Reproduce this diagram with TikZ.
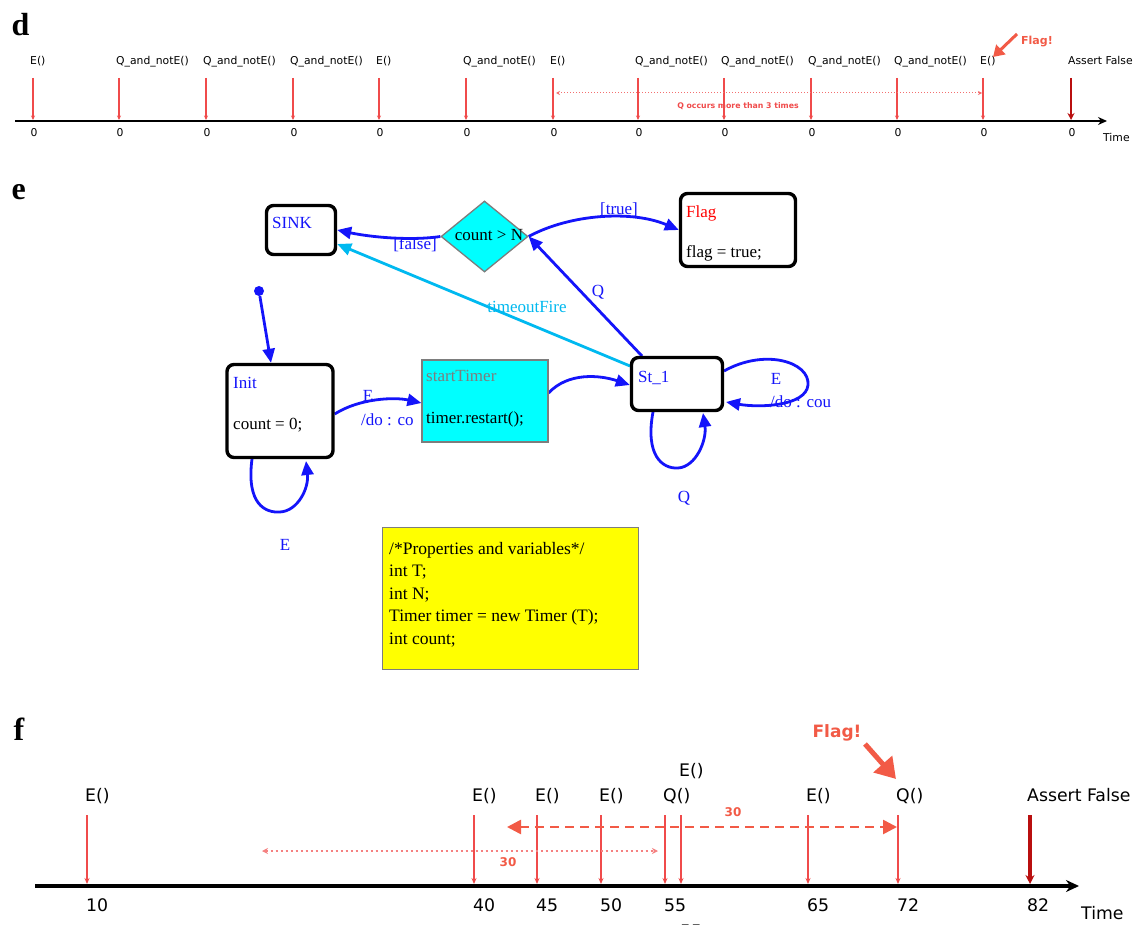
\documentclass[tikz,border=0pt]{standalone}
\usepackage{fontspec}
\setmainfont{Liberation Serif}
\newfontfamily\tlfont{DejaVu Sans}
\usetikzlibrary{arrows.meta,shapes.geometric,backgrounds}
\definecolor{evred}{RGB}{240,75,75}
\definecolor{flagred}{RGB}{242,90,70}
\definecolor{assertred}{RGB}{185,15,15}
\definecolor{stblue}{RGB}{20,20,250}
\definecolor{tocyan}{RGB}{0,185,240}
\definecolor{boxgray}{RGB}{125,125,125}
\definecolor{aqua}{RGB}{0,255,255}
\definecolor{varyellow}{RGB}{255,255,0}
\tikzset{
  panel/.style={anchor=base west,font=\fontsize{32}{32}\selectfont\bfseries},
  dlab/.style={anchor=base west,inner sep=0,font=\tlfont\fontsize{10.8}{12}\selectfont},
  dnum/.style={anchor=base,inner sep=0,font=\tlfont\fontsize{10.8}{12}\selectfont},
  devent/.style={evred,line width=1.2pt,-{Stealth[length=4.5pt,width=4pt]}},
  dassert/.style={assertred,line width=2.6pt,-{Stealth[length=7pt,width=7pt]}},
  daxis/.style={line width=2.8pt,-{Stealth[length=9pt,width=8pt]}},
  flab/.style={anchor=base west,inner sep=0,font=\tlfont\fontsize{17.3}{19}\selectfont},
  fnum/.style={anchor=base west,inner sep=0,font=\tlfont\fontsize{17.3}{19}\selectfont},
  fevent/.style={evred,line width=1.8pt,-{Stealth[length=6pt,width=5pt]}},
  fassert/.style={assertred,line width=4pt,-{Stealth[length=9pt,width=9pt]}},
  faxis/.style={line width=4.5pt,-{Stealth[length=13pt,width=12pt]}},
  state/.style={draw,line width=3.4pt,rounded corners=7pt,inner sep=0},
  actbox/.style={draw=boxgray,line width=1.2pt,fill=aqua,inner sep=0},
  stext/.style={anchor=base west,inner sep=0,font=\fontsize{17}{20}\selectfont},
  edge/.style={stblue,line width=2.8pt,-{Triangle[length=14pt,width=12pt]}},
  elab/.style={stblue,inner sep=0,font=\fontsize{17}{20}\selectfont},
}
\begin{document}
\begin{tikzpicture}[x=1pt,y=-1pt]
\useasboundingbox (0,0) rectangle (1143,925);
\begin{scope}[on background layer]
\fill[white] (0,0) rectangle (1143,925);
\end{scope}

% ================= panel d =================
\node[panel] (pd) at (8,36) {d};
\coordinate (daxL) at (15,121);
\coordinate (daxR) at (1107,121);
\draw[daxis] (daxL) -- (daxR);
\foreach \x/\t [count=\i] in {33/E(),119/Q\_and\_notE(),206/Q\_and\_notE(),293/Q\_and\_notE(),379/E(),466/Q\_and\_notE(),553/E(),638/Q\_and\_notE(),724/Q\_and\_notE(),811/Q\_and\_notE(),897/Q\_and\_notE(),983/E()} {
  \node[dlab] (dl\i) at (\x-3,65) {\t};
  \coordinate (dtop\i) at (\x,78);
  \coordinate (dbot\i) at (\x,120);
  \draw[devent] (dtop\i) -- (dbot\i);
  \node[dnum] (dn\i) at (\x+1,137) {0};
}
\node[dlab] (dla) at (1068,65) {Assert False};
\coordinate (datop) at (1071,78);
\coordinate (dabot) at (1071,120);
\draw[dassert] (datop) -- (dabot);
\node[dnum] (dna) at (1072,137) {0};
\node[dlab] (dtime) at (1103,142) {Time};
\coordinate (ddotL) at (556,93);
\coordinate (ddotR) at (982,93);
\draw[evred!80,line width=1pt,dotted,{Stealth[length=4pt,width=4pt]}-{Stealth[length=4pt,width=4pt]}] (ddotL) -- (ddotR);
\node[evred,inner sep=0,font=\tlfont\bfseries\fontsize{7.8}{8}\selectfont] (docc) at (738,106) {Q occurs more than 3 times};
\node[anchor=base west,inner sep=0,flagred,font=\tlfont\bfseries\fontsize{11}{12}\selectfont] (dflag) at (1021,45) {Flag!};
\coordinate (dfs) at (1017,34);
\coordinate (dfe) at (993,57);
\draw[flagred,line width=3pt,-{Triangle[length=11pt,width=13pt]}] (dfs) -- (dfe);

% ================= panel e =================
\node[panel] (pe) at (8,200) {e};
\node[state,minimum width=69pt,minimum height=49pt] (sink) at (301,230) {};
\node[stext,stblue] (sinkt) at (272,229) {SINK};
\node[diamond,draw=boxgray,line width=1.3pt,fill=aqua,minimum width=87pt,minimum height=71pt,inner sep=0] (dia) at (484.5,236.5) {};
\node[inner sep=0,font=\fontsize{17}{20}\selectfont] (diat) at (489,235) {count > N};
\node[state,minimum width=115pt,minimum height=73pt] (flag) at (738,230) {};
\node[stext,red] (flagt) at (686,218) {Flag};
\node[stext] (flagb) at (686,258) {flag = true;};
\node[state,minimum width=106pt,minimum height=93pt] (init) at (280,411) {};
\node[stext,stblue] (initt) at (233,388) {Init};
\node[stext] (initb) at (233,429) {count = 0;};
\node[actbox,minimum width=126pt,minimum height=82pt] (stt) at (485,401) {};
\node[stext,boxgray] (sttt) at (426,381) {startTimer};
\node[stext] (sttb) at (426,423) {timer.restart();};
\node[state,minimum width=91pt,minimum height=53pt] (st1) at (677,384) {};
\node[stext,stblue] (st1t) at (638,382) {St\_1};
\node[draw=boxgray,line width=1pt,fill=varyellow,minimum width=256pt,minimum height=142pt,inner sep=0] (vars) at (510,598) {};
\node[stext,anchor=north west,align=left,font=\fontsize{17.5}{22.5}\selectfont] (varst) at (389,542) {/*Properties and variables*/\\int T;\\int N;\\Timer timer = new Timer (T);\\int count;};
\node[circle,fill=stblue,minimum size=10pt,inner sep=0] (initdot) at (259,291) {};

\begin{scope}[on background layer]
\draw[edge] (initdot) -- ([xshift=-9pt]init.north);
\draw[edge] ([yshift=-3pt]init.east) .. controls (360,398) and (395,397) .. ([yshift=-2pt]stt.west);
\node[elab] (l1) at (368,396) {E};
\node[elab,anchor=west] (l2) at (361,420) {/do : co};
\draw[edge] (252,459) .. controls (246,505) and (266,513) .. (280,512) .. controls (298,511) and (309,488) .. (306,461);
\node[elab] (l3) at (285,545) {E};
\draw[edge] ([yshift=8pt]stt.east) .. controls (568,372) and (600,375) .. ([yshift=-1pt]st1.west);
\draw[edge] (724,371) .. controls (765,348) and (810,362) .. (808,385) .. controls (806,406) and (760,408) .. (726,402);
\node[elab] (l4) at (776,379) {E};
\node[elab,anchor=west] (l5) at (770,402) {/do : cou};
\draw[edge] (653,412) .. controls (645,455) and (662,469) .. (678,468) .. controls (696,467) and (707,440) .. (703,413);
\node[elab] (l6) at (684,498) {Q};
\draw[edge] (642,356) -- (dia.east);
\node[elab] (l7) at (598,292) {Q};
\draw[edge,tocyan] (630,366) -- ([yshift=-14pt]sink.east);
\node[elab,tocyan] (l8) at (527,307) {timeoutFire};
\draw[edge] (dia.west) .. controls (410,241) and (370,237) .. (sink.east);
\node[elab] (l9) at (415,245) {[false]};
\draw[edge] (dia.east) .. controls (570,214) and (632,210) .. (flag.west);
\node[elab] (l10) at (619,210) {[true]};
\end{scope}

% ================= panel f =================
\node[panel] (pf) at (10,740) {f};
\coordinate (faxL) at (35,886);
\coordinate (faxR) at (1079,886);
\draw[faxis] (faxL) -- (faxR);
\foreach \x/\t/\n/\ly [count=\i] in {87/E()/10/801,474/E()/40/801,537/E()/45/801,601/E()/50/801,665/Q()/55/801,681/E()//776,808/E()/65/801,898/Q()/72/801} {
  \node[flab] (fl\i) at (\x-2,\ly) {\t};
  \coordinate (ftop\i) at (\x,815);
  \coordinate (fbot\i) at (\x,884);
  \draw[fevent] (ftop\i) -- (fbot\i);
  \node[fnum] (fn\i) at (\x-1,911) {\n};
}
\node[flab] (fla) at (1027,801) {Assert False};
\coordinate (fatop) at (1030,815);
\coordinate (fabot) at (1030,884);
\draw[fassert] (fatop) -- (fabot);
\node[fnum] (fna) at (1027,911) {82};
\node[fnum] (ftime) at (1081,919) {Time};
\node[fnum] (f55b) at (680,937) {55};
\coordinate (fdashL) at (507,827);
\coordinate (fdashR) at (897,827);
\draw[flagred,line width=2.6pt,dash pattern=on 9pt off 6pt,{Triangle[length=14pt,width=14pt]}-{Triangle[length=14pt,width=14pt]}] (fdashL) -- (fdashR);
\node[flagred,inner sep=0,font=\tlfont\bfseries\fontsize{12}{13}\selectfont] (f30a) at (733,812) {30};
\coordinate (fdotL) at (262,851);
\coordinate (fdotR) at (658,851);
\draw[evred!70,line width=2.2pt,dash pattern=on 2pt off 3pt,{Stealth[length=6pt,width=6pt]}-{Stealth[length=6pt,width=6pt]}] (fdotL) -- (fdotR);
\node[flagred,inner sep=0,font=\tlfont\bfseries\fontsize{12}{13}\selectfont] (f30b) at (508,862) {30};
\node[anchor=base,inner sep=0,flagred,font=\tlfont\bfseries\fontsize{17}{18}\selectfont] (fflag) at (837,737) {Flag!};
\coordinate (ffs) at (865,744);
\coordinate (ffe) at (896,779);
\draw[flagred,line width=5pt,-{Triangle[length=20pt,width=24pt]}] (ffs) -- (ffe);
\end{tikzpicture}
\end{document}
